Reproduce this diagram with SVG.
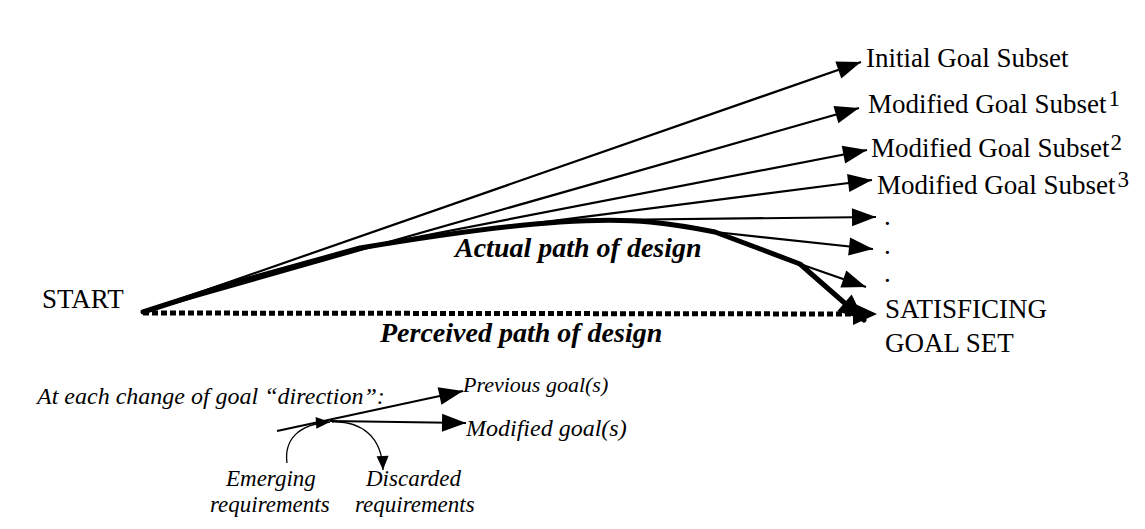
<svg xmlns="http://www.w3.org/2000/svg" width="1145" height="529" viewBox="0 0 1145 529">
<style>
.lab{font-family:"Liberation Serif","Times New Roman",serif;font-size:27px;fill:#000}
.sup{font-size:23px}
.bi{font-family:"Liberation Serif","Times New Roman",serif;font-size:28px;font-weight:bold;font-style:italic;fill:#000}
.it{font-family:"Liberation Serif","Times New Roman",serif;font-size:23px;font-style:italic;fill:#000}
.thin{fill:none;stroke:#000;stroke-width:2.2}
.thick{fill:none;stroke:#000;stroke-width:5;stroke-linejoin:round;stroke-linecap:round}
.dot{fill:none;stroke:#000;stroke-width:5;stroke-dasharray:6 3}
</style>
<defs>
<marker id="ah" markerUnits="userSpaceOnUse" markerWidth="26" markerHeight="20" refX="24" refY="9" orient="auto" overflow="visible"><path d="M0,0 L24,9 L0,18 z" fill="#000"/></marker>
<marker id="ahb" markerUnits="userSpaceOnUse" markerWidth="30" markerHeight="26" refX="26" refY="11" orient="auto" overflow="visible"><path d="M0,0 L26,11 L0,22 z" fill="#000"/></marker>
<marker id="ahs" markerUnits="userSpaceOnUse" markerWidth="16" markerHeight="14" refX="14" refY="6" orient="auto" overflow="visible"><path d="M0,0 L14,6 L0,12 z" fill="#000"/></marker>
</defs>
<rect width="1145" height="529" fill="#fff"/>
<g id="connectors">
<line class="thin" x1="143" y1="312" x2="861" y2="62" marker-end="url(#ah)"/>
<line class="thin" x1="143" y1="312" x2="859" y2="108" marker-end="url(#ah)"/>
<line class="thin" x1="360" y1="248" x2="867" y2="150" marker-end="url(#ah)"/>
<line class="thin" x1="450" y1="234" x2="872" y2="180" marker-end="url(#ah)"/>
<line class="thin" x1="600" y1="220" x2="876" y2="217" marker-end="url(#ah)"/>
<line class="thin" x1="715" y1="232" x2="873" y2="249" marker-end="url(#ah)"/>
<line class="thin" x1="800" y1="264" x2="866" y2="287" marker-end="url(#ah)"/>
<path class="thick" d="M143,312 L230,284 L360,248 C420,238 500,226 560,222 C590,220 620,219 650,222 C680,225 700,229 715,232 L800,264 L864,320" marker-end="url(#ahb)"/>
<line class="dot" x1="143" y1="313" x2="860" y2="314"/>
<path d="M853,303 L877,314 L853,325 z" fill="#000"/>
<line class="thin" x1="277" y1="431" x2="463" y2="391" marker-end="url(#ah)"/>
<line class="thin" x1="330" y1="421" x2="466" y2="423" marker-end="url(#ah)"/>
<path class="thin" style="stroke-width:1.3" d="M287,463 C284,440 298,424 330,422" marker-end="url(#ahs)"/>
<path class="thin" style="stroke-width:1.3" d="M332,422 C362,421 382,437 383,470" marker-end="url(#ahs)"/>
</g>
<g id="start"><text class="lab" x="42" y="308">START</text></g>
<g id="initial"><text class="lab" x="866" y="67">Initial Goal Subset</text></g>
<g id="mod1"><text class="lab" x="868" y="113">Modified Goal Subset<tspan class="sup" dx="2" dy="-7">1</tspan></text></g>
<g id="mod2"><text class="lab" x="871" y="157">Modified Goal Subset<tspan class="sup" dx="1" dy="-7">2</tspan></text></g>
<g id="mod3"><text class="lab" x="877" y="194">Modified Goal Subset<tspan class="sup" dx="2" dy="-7">3</tspan></text></g>
<g id="dots">
<text class="lab" x="884" y="225">.</text>
<text class="lab" x="884" y="254">.</text>
<text class="lab" x="884" y="282">.</text>
</g>
<g id="satisficing"><text class="lab" x="885" y="318">SATISFICING</text><text class="lab" x="885" y="352">GOAL SET</text></g>
<g id="actual"><text class="bi" x="455" y="257">Actual path of design</text></g>
<g id="perceived"><text class="bi" x="380" y="342">Perceived path of design</text></g>
<g id="legend">
<text class="it" x="37" y="404" style="font-size:24px">At each change of goal “direction”:</text>
<text class="it" x="463" y="392" style="font-size:22px">Previous goal(s)</text>
<text class="it" x="466" y="436" style="font-size:24px">Modified goal(s)</text>
<text class="it" x="226" y="486">Emerging</text>
<text class="it" x="210" y="512">requirements</text>
<text class="it" x="366" y="486">Discarded</text>
<text class="it" x="355" y="512">requirements</text>
</g>
</svg>
